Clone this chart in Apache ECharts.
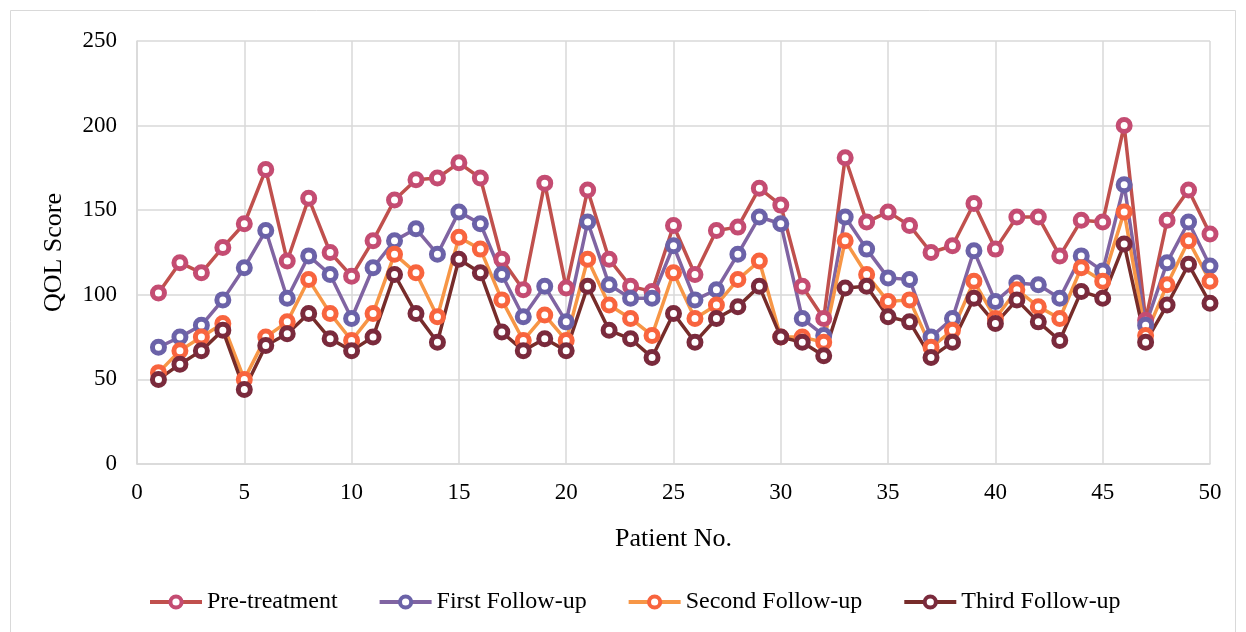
<!DOCTYPE html>
<html>
<head>
<meta charset="utf-8">
<title>QOL Score</title>
<script src="https://cdn.jsdelivr.net/npm/echarts@6/dist/echarts.min.js"></script>
<style>
  html, body { margin: 0; padding: 0; background: #fff; }
  #chart { width: 1246px; height: 632px; }
</style>
</head>
<body>
<div id="chart"></div>
<script>
// patient numbers on the x axis
const patients = [1, 2, 3, 4, 5, 6, 7, 8, 9, 10, 11, 12, 13, 14, 15, 16, 17, 18, 19, 20,
  21, 22, 23, 24, 25, 26, 27, 28, 29, 30, 31, 32, 33, 34, 35, 36, 37, 38, 39, 40,
  41, 42, 43, 44, 45, 46, 47, 48, 49, 50]

const preTreatment = [101, 119, 113, 128, 142, 174, 120, 157, 125, 111, 132, 156, 168, 169, 178, 169, 121, 103, 166, 104,
  162, 121, 105, 102, 141, 112, 138, 140, 163, 153, 105, 86, 181, 143, 149, 141, 125, 129, 154, 127,
  146, 146, 123, 144, 143, 200, 85, 144, 162, 136]
const firstFollowUp = [69, 75, 82, 97, 116, 138, 98, 123, 112, 86, 116, 132, 139, 124, 149, 142, 112, 87, 105, 84,
  143, 106, 98, 98, 129, 97, 103, 124, 146, 142, 86, 76, 146, 127, 110, 109, 75, 86, 126, 96,
  107, 106, 98, 123, 114, 165, 82, 119, 143, 117]
const secondFollowUp = [54, 67, 75, 83, 50, 75, 84, 109, 89, 73, 89, 124, 113, 87, 134, 127, 97, 73, 88, 73,
  121, 94, 86, 76, 113, 86, 94, 109, 120, 75, 75, 72, 132, 112, 96, 97, 69, 79, 108, 86,
  103, 93, 86, 116, 108, 149, 76, 106, 132, 108]
const thirdFollowUp = [50, 59, 67, 79, 44, 70, 77, 89, 74, 67, 75, 112, 89, 72, 121, 113, 78, 67, 74, 67,
  105, 79, 74, 63, 89, 72, 86, 93, 105, 75, 72, 64, 104, 105, 87, 84, 63, 72, 98, 83,
  97, 84, 73, 102, 98, 130, 72, 94, 118, 95]

const seriesNames = ['Pre-treatment', 'First Follow-up', 'Second Follow-up', 'Third Follow-up']

const fontFamily = '"Liberation Serif", "Times New Roman", serif'
const gridColor = '#d9d9d9'

function makeSeries(name, values, lineColor, markerColor) {
  return {
    name: name,
    type: 'line',
    data: patients.map((p, i) => [p, values[i]]),
    symbol: 'circle',
    symbolSize: 12,
    showAllSymbol: true,
    lineStyle: { color: lineColor, width: 3.5 },
    itemStyle: { color: '#fff', borderColor: markerColor, borderWidth: 5 },
    emphasis: { disabled: true },
    animation: false
  }
}

const chart = echarts.init(document.getElementById('chart'))
chart.setOption({
  backgroundColor: '#fff',
  textStyle: { fontFamily: fontFamily },
  graphic: [{
    type: 'rect',
    shape: { x: 10.5, y: 10.5, width: 1225, height: 640 },
    style: { fill: 'none', stroke: gridColor, lineWidth: 1 },
    silent: true
  }],
  grid: {
    left: 137,
    right: 36,
    top: 41,
    bottom: 168
  },
  xAxis: {
    type: 'value',
    min: 0,
    max: 50,
    interval: 5,
    name: 'Patient No.',
    nameLocation: 'middle',
    nameGap: 62,
    nameTextStyle: { fontSize: 26, color: '#000', fontFamily: fontFamily },
    axisLine: { show: true, lineStyle: { color: gridColor, width: 1.5 } },
    axisTick: { show: false },
    splitLine: { show: true, lineStyle: { color: gridColor, width: 1.5 } },
    axisLabel: { fontSize: 23, color: '#000', margin: 17, fontFamily: fontFamily }
  },
  yAxis: {
    type: 'value',
    min: 0,
    max: 250,
    interval: 50,
    name: 'QOL Score',
    nameLocation: 'middle',
    nameGap: 70,
    nameTextStyle: { fontSize: 26, color: '#000', fontFamily: fontFamily },
    axisLine: { show: true, lineStyle: { color: gridColor, width: 1.5 } },
    axisTick: { show: false },
    splitLine: { show: true, lineStyle: { color: gridColor, width: 1.5 } },
    axisLabel: { fontSize: 23, color: '#000', margin: 20, fontFamily: fontFamily }
  },
  legend: {
    data: seriesNames,
    top: 585,
    left: 143,
    itemWidth: 52,
    itemHeight: 14,
    itemGap: 40,
    itemStyle: { borderWidth: 4 },
    lineStyle: { width: 4 },
    textStyle: { fontSize: 24, color: '#000', fontFamily: fontFamily }
  },
  series: [
    makeSeries(seriesNames[0], preTreatment, '#c0504d', '#c44c72'),
    makeSeries(seriesNames[1], firstFollowUp, '#8064a2', '#6b62a8'),
    makeSeries(seriesNames[2], secondFollowUp, '#f79646', '#f8643e'),
    makeSeries(seriesNames[3], thirdFollowUp, '#772c2a', '#7a2a3c')
  ]
})
</script>
</body>
</html>
